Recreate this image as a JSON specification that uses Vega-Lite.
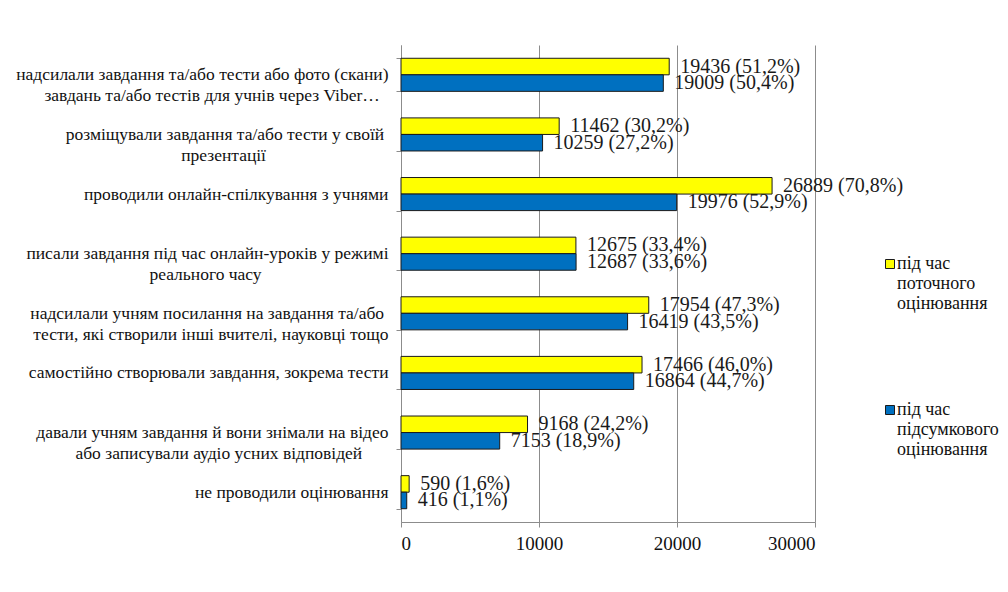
{
  "$schema": "https://vega.github.io/schema/vega-lite/v6.json",
  "width": 414,
  "height": 477,
  "autosize": {"type": "none"},
  "padding": {"left": 401, "top": 45, "right": 193, "bottom": 70},
  "background": "white",
  "config": {
    "view": {"stroke": null},
    "font": "Times New Roman, Liberation Serif, serif"
  },
  "data": {
    "values": [
      {"category": "надсилали завдання та/або тести або фото (скани)|завдань та/або тестів для учнів через Viber…", "series": "під час поточного оцінювання", "value": 19436, "label": "19436 (51,2%)"},
      {"category": "надсилали завдання та/або тести або фото (скани)|завдань та/або тестів для учнів через Viber…", "series": "під час підсумкового оцінювання", "value": 19009, "label": "19009 (50,4%)"},
      {"category": "розміщували завдання та/або тести у своїй|презентації", "series": "під час поточного оцінювання", "value": 11462, "label": "11462 (30,2%)"},
      {"category": "розміщували завдання та/або тести у своїй|презентації", "series": "під час підсумкового оцінювання", "value": 10259, "label": "10259 (27,2%)"},
      {"category": "проводили онлайн-спілкування з учнями", "series": "під час поточного оцінювання", "value": 26889, "label": "26889 (70,8%)"},
      {"category": "проводили онлайн-спілкування з учнями", "series": "під час підсумкового оцінювання", "value": 19976, "label": "19976 (52,9%)"},
      {"category": "писали завдання під час онлайн-уроків у режимі|реального часу", "series": "під час поточного оцінювання", "value": 12675, "label": "12675 (33,4%)"},
      {"category": "писали завдання під час онлайн-уроків у режимі|реального часу", "series": "під час підсумкового оцінювання", "value": 12687, "label": "12687 (33,6%)"},
      {"category": "надсилали учням посилання на завдання та/або|тести, які створили інші вчителі, науковці тощо", "series": "під час поточного оцінювання", "value": 17954, "label": "17954 (47,3%)"},
      {"category": "надсилали учням посилання на завдання та/або|тести, які створили інші вчителі, науковці тощо", "series": "під час підсумкового оцінювання", "value": 16419, "label": "16419 (43,5%)"},
      {"category": "самостійно створювали завдання, зокрема тести", "series": "під час поточного оцінювання", "value": 17466, "label": "17466 (46,0%)"},
      {"category": "самостійно створювали завдання, зокрема тести", "series": "під час підсумкового оцінювання", "value": 16864, "label": "16864 (44,7%)"},
      {"category": "давали учням завдання й вони знімали на відео|або записували аудіо усних відповідей", "series": "під час поточного оцінювання", "value": 9168, "label": "9168 (24,2%)"},
      {"category": "давали учням завдання й вони знімали на відео|або записували аудіо усних відповідей", "series": "під час підсумкового оцінювання", "value": 7153, "label": "7153 (18,9%)"},
      {"category": "не проводили оцінювання", "series": "під час поточного оцінювання", "value": 590, "label": "590 (1,6%)"},
      {"category": "не проводили оцінювання", "series": "під час підсумкового оцінювання", "value": 416, "label": "416 (1,1%)"}
    ]
  },
  "encoding": {
    "y": {
      "field": "category",
      "type": "nominal",
      "sort": null,
      "scale": {"paddingInner": 0.445, "paddingOuter": 0.2225},
      "axis": {
        "title": null,
        "tickBand": "extent",
        "domainColor": "#8c8c8c",
        "tickColor": "#8c8c8c",
        "tickSize": 5,
        "labelFont": "Times New Roman, Liberation Serif, serif",
        "labelFontSize": 17.5,
        "labelColor": "#111111",
        "labelLineHeight": 21,
        "labelPadding": 8,
        "labelLimit": 0,
        "labelExpr": "length(split(datum.label, '|')) < 2 ? datum.label : [split(datum.label, '|')[0] + pad('', indexof(datum.label, 'учням посилання') >= 0 || indexof(datum.label, 'презентації') >= 0 ? 1 : 0, '\u00a0') + '\u2060', split(datum.label, '|')[1] + pad('', indexof(datum.label, 'Viber') >= 0 ? 2 : indexof(datum.label, 'презентації') >= 0 ? 28 : indexof(datum.label, 'реального') >= 0 ? 29 : indexof(datum.label, 'аудіо') >= 0 ? 6 : 0, '\u00a0') + '\u2060']"
      }
    },
    "yOffset": {
      "field": "series",
      "type": "nominal",
      "sort": ["під час поточного оцінювання", "під час підсумкового оцінювання"],
      "scale": {"paddingInner": 0, "paddingOuter": 0}
    },
    "x": {
      "field": "value",
      "type": "quantitative",
      "scale": {"domain": [0, 30000], "nice": false},
      "axis": {
        "title": null,
        "values": [0, 10000, 20000, 30000],
        "format": "d",
        "grid": true,
        "gridColor": "#8c8c8c",
        "domainColor": "#8c8c8c",
        "tickColor": "#8c8c8c",
        "tickSize": 5,
        "labelFont": "Times New Roman, Liberation Serif, serif",
        "labelFontSize": 19,
        "labelColor": "#111111",
        "labelPadding": 7
      }
    }
  },
  "layer": [
    {
      "mark": {"type": "bar", "stroke": "#1a1a1a", "strokeWidth": 1},
      "encoding": {
        "color": {
          "field": "series",
          "type": "nominal",
          "scale": {
            "domain": ["під час поточного оцінювання", "під час підсумкового оцінювання"],
            "range": ["#FFFF00", "#0070C0"]
          },
          "legend": {
            "title": null,
            "orient": "none",
            "legendX": 480,
            "legendY": 215,
            "padding": 0,
            "labelFont": "Times New Roman, Liberation Serif, serif",
            "labelFontSize": 18,
            "labelColor": "#111111",
            "labelLineHeight": 20,
            "labelBaseline": "alphabetic",
            "labelOffset": -2,
            "labelLimit": 0,
            "labelExpr": "datum.label == 'під час поточного оцінювання' ? ['під час', 'поточного', 'оцінювання'] : ['під час', 'підсумкового', 'оцінювання']",
            "symbolType": "M-1,-2.11L1,-2.11L1,-0.11L-1,-0.11Z",
            "symbolSize": 81,
            "symbolStrokeColor": "#1a1a1a",
            "symbolStrokeWidth": 1,
            "rowPadding": 88
          }
        }
      }
    },
    {
      "mark": {"type": "text", "align": "left", "baseline": "middle", "dx": 11, "fontSize": 20, "font": "Times New Roman, Liberation Serif, serif", "color": "#1a1a1a"},
      "encoding": {"text": {"field": "label", "type": "nominal"}}
    }
  ]
}
